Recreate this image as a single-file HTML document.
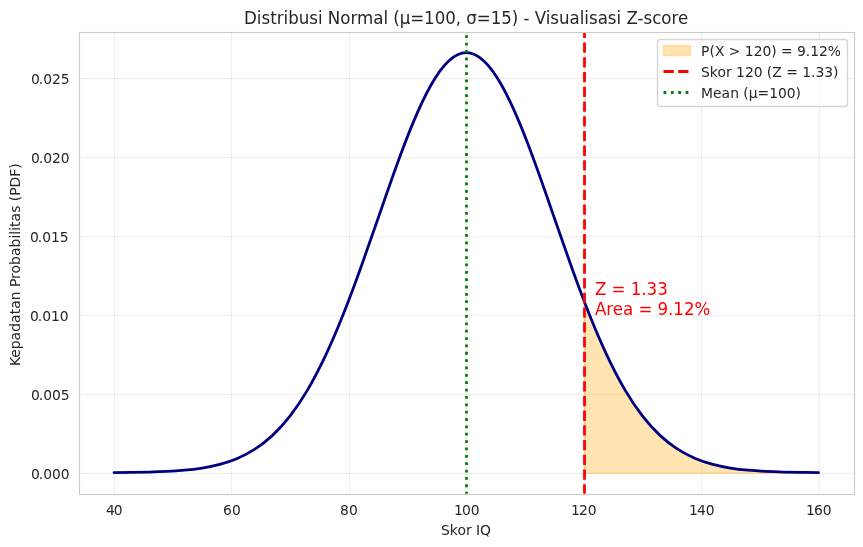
<!DOCTYPE html>
<html lang="id">
<head>
<meta charset="utf-8">
<title>Distribusi Normal - Visualisasi Z-score</title>
<style>
html,body{margin:0;padding:0;background:#ffffff;}
body{width:863px;height:547px;overflow:hidden;position:relative;font-family:'DejaVu Sans','Liberation Sans',sans-serif;}
svg text{white-space:pre;}
</style>
</head>
<body>
<svg width="863" height="547" viewBox="0 0 863 547" style="display:block;position:absolute;left:0;top:0" font-family="'DejaVu Sans', 'Liberation Sans', sans-serif">
<defs><clipPath id="axclip"><rect x="78.778" y="31.722" width="775" height="462"/></clipPath></defs>
<rect x="0" y="0" width="863" height="547" fill="#ffffff"/>
<g stroke="#cccccc" fill="none" clip-path="url(#axclip)"><line x1="114.5" y1="494.5" x2="114.5" y2="32.5" stroke-width="3" stroke-opacity="0.02"/><line x1="114.5" y1="494.5" x2="114.5" y2="32.5" stroke-width="1" stroke-opacity="0.3"/><line x1="231.5" y1="494.5" x2="231.5" y2="32.5" stroke-width="3" stroke-opacity="0.02"/><line x1="231.5" y1="494.5" x2="231.5" y2="32.5" stroke-width="1" stroke-opacity="0.3"/><line x1="349.5" y1="494.5" x2="349.5" y2="32.5" stroke-width="3" stroke-opacity="0.02"/><line x1="349.5" y1="494.5" x2="349.5" y2="32.5" stroke-width="1" stroke-opacity="0.3"/><line x1="466.5" y1="494.5" x2="466.5" y2="32.5" stroke-width="3" stroke-opacity="0.02"/><line x1="466.5" y1="494.5" x2="466.5" y2="32.5" stroke-width="1" stroke-opacity="0.3"/><line x1="584.5" y1="494.5" x2="584.5" y2="32.5" stroke-width="3" stroke-opacity="0.02"/><line x1="584.5" y1="494.5" x2="584.5" y2="32.5" stroke-width="1" stroke-opacity="0.3"/><line x1="701.5" y1="494.5" x2="701.5" y2="32.5" stroke-width="3" stroke-opacity="0.02"/><line x1="701.5" y1="494.5" x2="701.5" y2="32.5" stroke-width="1" stroke-opacity="0.3"/><line x1="819.5" y1="494.5" x2="819.5" y2="32.5" stroke-width="3" stroke-opacity="0.02"/><line x1="819.5" y1="494.5" x2="819.5" y2="32.5" stroke-width="1" stroke-opacity="0.3"/><line x1="79.5" y1="473.5" x2="854.5" y2="473.5" stroke-width="3" stroke-opacity="0.02"/><line x1="79.5" y1="473.5" x2="854.5" y2="473.5" stroke-width="1" stroke-opacity="0.3"/><line x1="79.5" y1="394.5" x2="854.5" y2="394.5" stroke-width="3" stroke-opacity="0.02"/><line x1="79.5" y1="394.5" x2="854.5" y2="394.5" stroke-width="1" stroke-opacity="0.3"/><line x1="79.5" y1="315.5" x2="854.5" y2="315.5" stroke-width="3" stroke-opacity="0.02"/><line x1="79.5" y1="315.5" x2="854.5" y2="315.5" stroke-width="1" stroke-opacity="0.3"/><line x1="79.5" y1="236.5" x2="854.5" y2="236.5" stroke-width="3" stroke-opacity="0.02"/><line x1="79.5" y1="236.5" x2="854.5" y2="236.5" stroke-width="1" stroke-opacity="0.3"/><line x1="79.5" y1="157.5" x2="854.5" y2="157.5" stroke-width="3" stroke-opacity="0.02"/><line x1="79.5" y1="157.5" x2="854.5" y2="157.5" stroke-width="1" stroke-opacity="0.3"/><line x1="79.5" y1="78.5" x2="854.5" y2="78.5" stroke-width="3" stroke-opacity="0.02"/><line x1="79.5" y1="78.5" x2="854.5" y2="78.5" stroke-width="1" stroke-opacity="0.3"/></g>
<path d="M584.182 473.202 L584.182 300.534 C589.774 315.151 595.365 328.942 600.957 341.668 C606.549 354.394 612.14 366.056 617.732 376.574 C623.323 387.091 628.915 396.466 634.507 404.745 C640.098 413.024 645.69 420.21 651.282 426.432 C656.873 432.654 662.465 437.915 668.056 442.387 C673.648 446.859 679.24 450.544 684.831 453.622 C690.423 456.701 696.015 459.173 701.606 461.205 C707.198 463.236 712.79 464.827 718.381 466.113 C723.973 467.399 729.564 468.38 735.156 469.162 C740.748 469.944 746.339 470.525 751.931 470.982 C757.523 471.438 763.114 471.769 768.706 472.026 C774.297 472.282 779.889 472.463 785.481 472.601 C791.072 472.739 796.664 472.834 802.256 472.906 C807.847 472.977 813.439 473.026 819.031 473.061 L819.031 473.202 Z" fill="#ffa500" fill-opacity="0.3" stroke="#ffa500" stroke-opacity="0.3" stroke-width="1.389" stroke-linejoin="round" clip-path="url(#axclip)"/>
<path d="M114.005 472.581 C119.876 472.544 125.747 472.493 131.619 472.415 C137.49 472.337 143.361 472.233 149.232 472.078 C155.104 471.923 160.975 471.719 166.846 471.425 C172.717 471.131 178.588 470.748 184.46 470.212 C190.331 469.677 196.202 468.99 202.073 468.056 C207.944 467.123 213.816 465.944 219.687 464.389 C225.558 462.833 231.429 460.901 237.301 458.422 C243.172 455.944 249.043 452.918 254.914 449.145 C260.785 445.373 266.657 440.852 272.528 435.375 C278.399 429.897 284.27 423.46 290.141 415.881 C296.013 408.302 301.884 399.578 307.755 389.604 C313.626 379.63 319.497 368.402 325.369 355.946 C331.24 343.489 337.111 329.803 342.982 315.09 C348.854 300.378 354.725 284.64 360.596 268.285 C366.467 251.93 372.338 234.96 378.21 217.977 C384.081 200.994 389.952 184.003 395.823 167.737 C401.694 151.471 407.566 135.939 413.437 121.906 C419.308 107.873 425.179 95.349 431.051 85.01 C436.922 74.671 442.793 66.525 448.664 61.035 C454.535 55.546 460.407 52.719 466.278 52.719 C472.149 52.719 478.02 55.546 483.891 61.035 C489.763 66.525 495.634 74.671 501.505 85.01 C507.376 95.349 513.247 107.873 519.119 121.906 C524.99 135.939 530.861 151.471 536.732 167.737 C542.604 184.003 548.475 200.994 554.346 217.977 C560.217 234.96 566.088 251.93 571.96 268.285 C577.831 284.64 583.702 300.378 589.573 315.09 C595.444 329.803 601.316 343.489 607.187 355.946 C613.058 368.402 618.929 379.63 624.801 389.604 C630.672 399.578 636.543 408.302 642.414 415.881 C648.285 423.46 654.157 429.897 660.028 435.375 C665.899 440.852 671.77 445.373 677.641 449.145 C683.513 452.918 689.384 455.944 695.255 458.422 C701.126 460.901 706.997 462.833 712.869 464.389 C718.74 465.944 724.611 467.123 730.482 468.056 C736.354 468.99 742.225 469.677 748.096 470.212 C753.967 470.748 759.838 471.131 765.71 471.425 C771.581 471.719 777.452 471.923 783.323 472.078 C789.194 472.233 795.066 472.337 800.937 472.415 C806.808 472.493 812.679 472.544 818.551 472.581" fill="none" stroke="#000080" stroke-width="2.778" stroke-linecap="round" stroke-linejoin="round" clip-path="url(#axclip)"/>
<line x1="584.5" y1="494.5" x2="584.5" y2="32.5" stroke="#ff0000" stroke-width="2.778" stroke-dasharray="10.278 4.444" clip-path="url(#axclip)"/>
<line x1="466.5" y1="494.5" x2="466.5" y2="32.5" stroke="#008000" stroke-width="2.778" stroke-dasharray="2.778 4.583" clip-path="url(#axclip)"/>
<rect x="79.5" y="32.5" width="775" height="462" fill="none" stroke="#cccccc" stroke-width="1.111"/>
<text id="xt40" x="106 113.75" y="515" font-size="13.889" fill="#262626">40</text>
<text id="xt60" x="223 231.875" y="515" font-size="13.889" fill="#262626">60</text>
<text id="xt80" x="340 348.875" y="515" font-size="13.889" fill="#262626">80</text>
<text id="xt100" x="454 461.875 470.625" y="515" font-size="13.889" fill="#262626">100</text>
<text id="xt120" x="571 578.875 587.625" y="515" font-size="13.889" fill="#262626">120</text>
<text id="xt140" x="689 696.875 705.625" y="515" font-size="13.889" fill="#262626">140</text>
<text id="xt160" x="806 813.875 822.75" y="515" font-size="13.889" fill="#262626">160</text>
<text id="xlabel" x="441 449.75 457.375 465.875 471.625 476 480" y="535" font-size="13.889" fill="#262626">Skor IQ</text>
<text id="yt000" x="31 38.75 43.125 51.875 60.625" y="479" font-size="13.889" fill="#262626">0.000</text>
<text id="yt005" x="31 38.75 43.125 51.875 60.625" y="400" font-size="13.889" fill="#262626">0.005</text>
<text id="yt010" x="30 37.75 42.125 50.875 59.75" y="321" font-size="13.889" fill="#262626">0.010</text>
<text id="yt015" x="30 37.75 42.125 50.875 59.75" y="242" font-size="13.889" fill="#262626">0.015</text>
<text id="yt020" x="31 38.75 43.125 51.875 60.625" y="163" font-size="13.889" fill="#262626">0.020</text>
<text id="yt025" x="31 38.75 43.125 51.875 60.625" y="84" font-size="13.889" fill="#262626">0.025</text>
<text id="ylabel" x="-81.375 -73.125 -64.625 -55.75 -47.125 -38.25 -29.625 -24.125 -15.5 -6.75 -2.375 5.75 11.25 19.75 28.625 37.25 46.125 50 53.875 57.75 63.25 71.875 79 83.375 88.875 97.25 108 116" y="264.722" font-size="13.889" fill="#262626" transform="rotate(-90 20 264.722)">Kepadatan Probabilitas (PDF)</text>
<text id="ann1" x="595 606.375 611.625 625.5 630.75 641.375 646.625 657.25" y="295.04" font-size="16.667" fill="#ff0000" transform="matrix(1 0 0 1.07 0 -20.653)">Z = 1.33</text>
<text id="ann2" x="595 606.375 612.875 623.125 633.25 638.5 652.375 657.625 668.125 673.375 684 694.625" y="315.003" font-size="16.667" fill="#ff0000" transform="matrix(1 0 0 1.07 0 -22.05)">Area = 9.12%</text>
<text id="title" x="244 256.875 261.5 270.25 276.75 283.625 288.25 298.75 309.25 318 322.625 327.875 340.375 350.5 357.125 373.375 383.5 388.125 393.375 399.75 410.25 424.125 434.75 445.25 455.75 461.125 466.375 476.875 490.75 501.375 511.875 518.375 523.625 529.5 534.75 545.75 550.375 559.125 569.625 579.75 584.375 589 597.75 607.875 616.625 621.25 626.5 637.625 643.5 652.25 661.375 671.5 678" y="23.989" font-size="16.667" fill="#262626" transform="matrix(1 0 0 1.07 0 -1.679)">Distribusi Normal (μ=100, σ=15) - Visualisasi Z-score</text>
<path d="M 660.278 106.5 L 844.722 106.5 Q 847.5 106.5 847.5 103.722 L 847.5 42.278 Q 847.5 39.5 844.722 39.5 L 660.278 39.5 Q 657.5 39.5 657.5 42.278 L 657.5 103.722 Q 657.5 106.5 660.278 106.5 Z" fill="#ffffff" stroke="#cccccc" stroke-width="1.389" opacity="0.8"/>
<rect x="663.5" y="45.5" width="27" height="10" fill="#ffa500" fill-opacity="0.3" stroke="#ffa500" stroke-opacity="0.3" stroke-width="1.389"/>
<line x1="663.5" y1="71.5" x2="691.3" y2="71.5" stroke="#ff0000" stroke-width="2.778" stroke-dasharray="10.278 4.444"/>
<line x1="663.5" y1="92.5" x2="691.3" y2="92.5" stroke="#008000" stroke-width="2.778" stroke-dasharray="2.778 4.583"/>
<text id="leg1" x="701 709.375 714.875 724.375 728.75 740.375 744.75 753.625 762.375 771.125 776.5 780.875 792.5 796.875 805.75 810.125 819 827.75" y="56" font-size="13.889" fill="#262626">P(X &gt; 120) = 9.12%</text>
<text id="leg2" x="701 709.75 717.375 725.875 731.625 736 744.875 753.625 762.375 766.75 772.25 781.75 786.125 797.75 802.125 811 815.375 824.125 832.875" y="77" font-size="13.889" fill="#262626">Skor 120 (Z = 1.33)</text>
<text id="leg3" x="701 713 721.5 730.125 738.875 743.25 748.75 757.5 769.125 778 786.75 795.5" y="98" font-size="13.889" fill="#262626">Mean (μ=100)</text>
</svg>
</body>
</html>
